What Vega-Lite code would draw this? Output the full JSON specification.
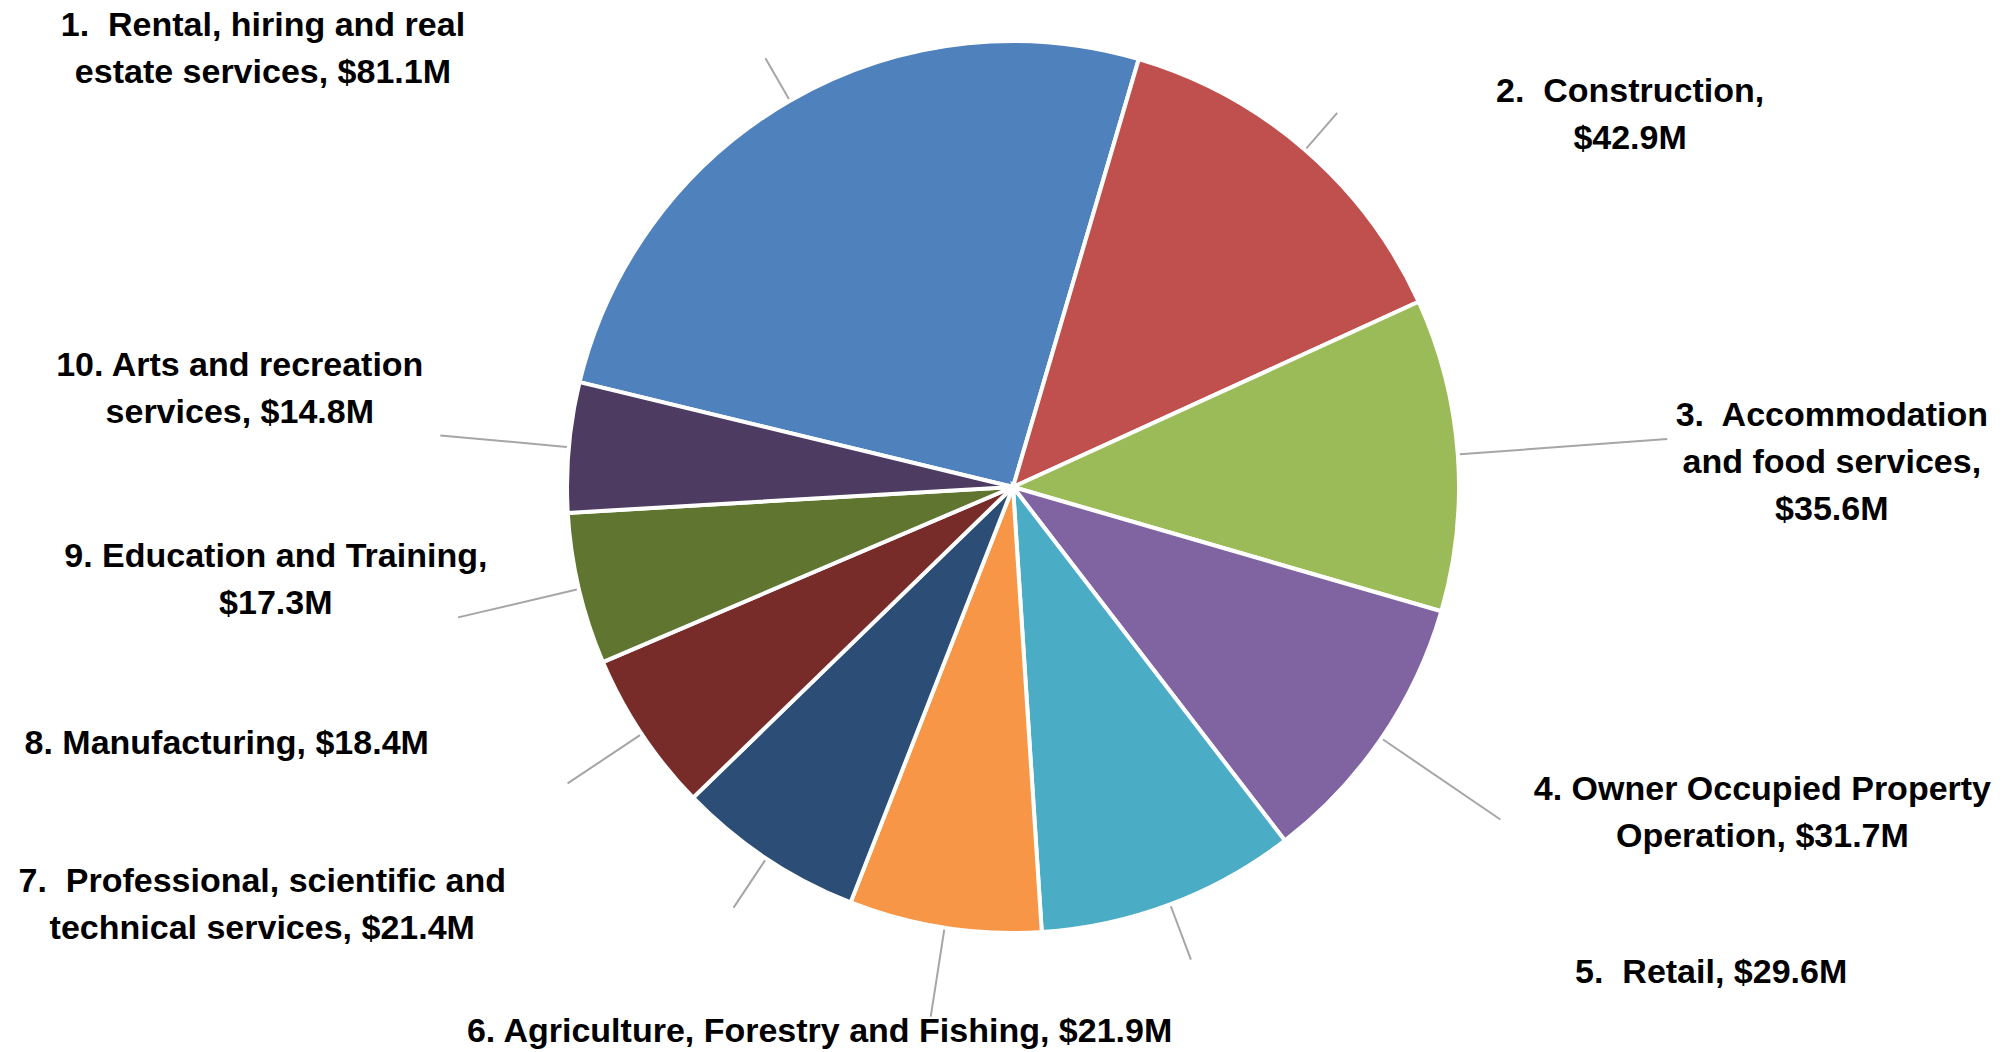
{
  "$schema": "https://vega.github.io/schema/vega-lite/v6.json",
  "width": 1994,
  "height": 974,
  "autosize": "none",
  "padding": {"left": 16, "top": 0, "right": 0, "bottom": 78},
  "background": "white",
  "config": {"view": {"stroke": null}},
  "data": {
    "values": [
      {"rank": 1, "industry": "Rental, hiring and real estate services", "value": 81.1, "label": "1.\u00a0 Rental, hiring and real\nestate services, $81.1M"},
      {"rank": 2, "industry": "Construction", "value": 42.9, "label": "2.\u00a0 Construction,\n$42.9M"},
      {"rank": 3, "industry": "Accommodation and food services", "value": 35.6, "label": "3.\u00a0 Accommodation\nand food services,\n$35.6M"},
      {"rank": 4, "industry": "Owner Occupied Property Operation", "value": 31.7, "label": "4. Owner Occupied Property\nOperation, $31.7M"},
      {"rank": 5, "industry": "Retail", "value": 29.6, "label": "5.\u00a0 Retail, $29.6M"},
      {"rank": 6, "industry": "Agriculture, Forestry and Fishing", "value": 21.9, "label": "6. Agriculture, Forestry and Fishing, $21.9M"},
      {"rank": 7, "industry": "Professional, scientific and technical services", "value": 21.4, "label": "7.\u00a0 Professional, scientific and\ntechnical services, $21.4M"},
      {"rank": 8, "industry": "Manufacturing", "value": 18.4, "label": "8. Manufacturing, $18.4M"},
      {"rank": 9, "industry": "Education and Training", "value": 17.3, "label": "9. Education and Training,\n$17.3M"},
      {"rank": 10, "industry": "Arts and recreation services", "value": 14.8, "label": "10. Arts and recreation\nservices, $14.8M"}
    ]
  },
  "encoding": {
    "theta": {"field": "value", "type": "quantitative", "stack": true, "scale": {"range": [-1.3334, 4.9498]}},
    "order": {"field": "rank", "type": "quantitative", "sort": "ascending"}
  },
  "layer": [
    {
      "mark": {"type": "arc", "outerRadius": 446, "stroke": "white", "strokeWidth": 4},
      "encoding": {
        "color": {
          "field": "industry",
          "type": "nominal",
          "legend": null,
          "scale": {
            "domain": ["Rental, hiring and real estate services", "Construction", "Accommodation and food services", "Owner Occupied Property Operation", "Retail", "Agriculture, Forestry and Fishing", "Professional, scientific and technical services", "Manufacturing", "Education and Training", "Arts and recreation services"],
            "range": ["#4F81BD", "#C0504D", "#9BBB59", "#8064A2", "#4BACC6", "#F79646", "#2C4D75", "#772C2A", "#5F7530", "#4D3B62"]
          }
        }
      }
    },
    {
      "mark": {
        "type": "arc",
        "padAngle": 3.14159,
        "radius": 448,
        "radius2": {"expr": "[0,495,495,656,590,505,536,505,535,570,575][datum.rank]"},
        "filled": false,
        "stroke": "#A6A6A6",
        "strokeWidth": 2
      },
      "encoding": {}
    },
    {
      "mark": {
        "type": "text",
        "radius": 446,
        "font": "Liberation Sans",
        "fontWeight": "bold",
        "fontSize": 34,
        "lineHeight": 47,
        "lineBreak": "\n",
        "align": "center",
        "baseline": "middle",
        "color": "#000000",
        "dx": {"expr": "[0,-527,325,374,381,541,-125,-504,-415,-303,-329][datum.rank]"},
        "dy": {"expr": "[0,-75,-58,-38,52,69,104,23,10,-32,-81][datum.rank]"}
      },
      "encoding": {"text": {"field": "label", "type": "nominal"}}
    }
  ]
}
